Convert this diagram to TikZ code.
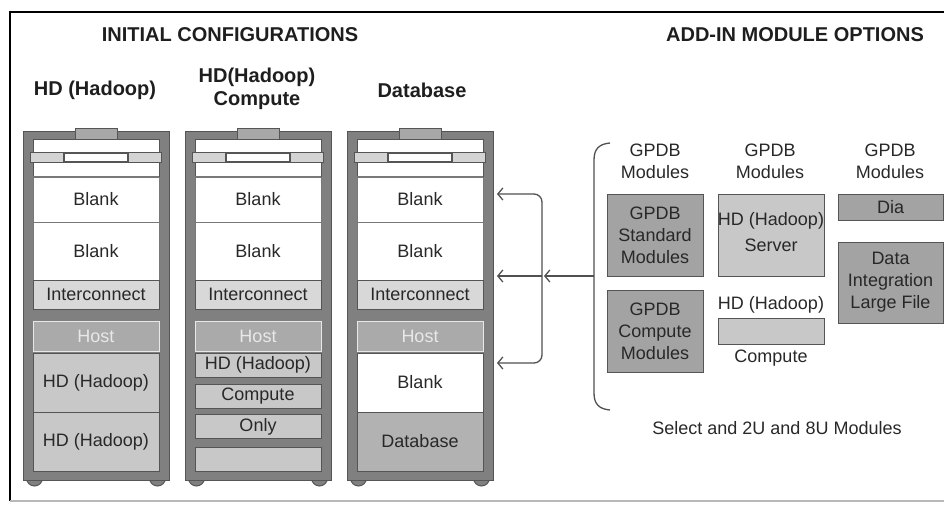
\documentclass[tikz,border=0pt]{standalone}
\usepackage{fontspec}
\setmainfont{Liberation Sans}
\usetikzlibrary{arrows.meta}

\definecolor{framegray}{RGB}{128,128,128}
\definecolor{edgegray}{RGB}{85,85,85}
\definecolor{handlefill}{RGB}{168,168,168}
\definecolor{barfill}{RGB}{212,212,212}
\definecolor{linegray}{RGB}{120,120,120}
\definecolor{interfill}{RGB}{216,216,216}
\definecolor{hostfill}{RGB}{170,170,170}
\definecolor{hostedge}{RGB}{232,232,232}
\definecolor{lightfill}{RGB}{200,200,200}
\definecolor{dbfill}{RGB}{178,178,178}
\definecolor{darkfill}{RGB}{163,163,163}
\definecolor{txt}{RGB}{40,40,40}
\definecolor{headtxt}{RGB}{30,30,30}
\definecolor{conngray}{RGB}{80,80,80}

\newcommand\rkbody{\fontsize{18}{22}\selectfont}
\newcommand\rkhead{\fontsize{20}{23}\selectfont\bfseries}

\begin{document}
\begin{tikzpicture}[x=1pt,y=-1pt,
  rackframe/.style={fill=framegray, draw=edgegray, line width=1pt},
  slot/.style={draw=edgegray, line width=0.9pt, minimum width=126pt, inner sep=0pt, text=txt, font=\rkbody},
  blankslot/.style={slot, fill=white, draw=linegray},
  interslot/.style={slot, fill=interfill},
  hostslot/.style={slot, fill=hostfill, draw=hostedge, text=hostedge},
  hdslot/.style={slot, fill=lightfill},
  dbslot/.style={slot, fill=dbfill},
  modbox/.style={draw=edgegray, line width=1pt, inner sep=0pt, align=center, font=\rkbody, text=txt},
  darkmod/.style={modbox, fill=darkfill},
  lightmod/.style={modbox, fill=lightfill},
  lbl/.style={align=center, font=\rkbody, text=txt, inner sep=0pt},
  head/.style={align=center, font=\rkhead, text=headtxt, inner sep=0pt},
  conn/.style={draw=conngray, line width=1.3pt},
  tip/.style={conn, -{Straight Barb[length=5pt,width=12pt]}},
]
\useasboundingbox (0,0) rectangle (944,504);

% outer frame
\draw[black, line width=1.6pt] (10,501) -- (10,12) -- (944,12);
\draw[gray!55, line width=1.2pt] (10,501) -- (944,501);

% headings
\node[head] (title1) at (230,35) {INITIAL CONFIGURATIONS};
\node[head] (title2) at (795,35) {ADD-IN MODULE OPTIONS};
\node[head] (cap1) at (95,90) {HD (Hadoop)};
\node[head] (cap2) at (257,89) {HD(Hadoop)\\Compute};
\node[head] (cap3) at (422,90) {Database};

% the three racks, common parts
\foreach \k/\cx in {1/96, 2/258, 3/420} {
  \draw[rackframe] (\cx-61.5,478) circle (8);
  \draw[rackframe] (\cx+61.5,478) circle (8);
  \node[rackframe, minimum width=146pt, minimum height=349pt, inner sep=0pt] (rack\k) at (\cx,305.5) {};
  \node[fill=handlefill, draw=edgegray, line width=1pt, minimum width=42pt, minimum height=15pt, inner sep=0pt] (handle\k) at (\cx,135.5) {};
  \node[fill=white, draw=edgegray, line width=0.9pt, minimum width=126pt, minimum height=170pt, inner sep=0pt] (bay\k) at (\cx,224) {};
  \node[fill=barfill, draw=edgegray, line width=0.9pt, minimum width=131pt, minimum height=10pt, inner sep=0pt] (bar\k) at (\cx,157.5) {};
  \node[fill=white, draw=edgegray, line width=1.6pt, minimum width=64pt, minimum height=8pt, inner sep=0pt] (slit\k) at (\cx,157.5) {};
  \draw[linegray, line width=0.9pt] (\cx-63,176) -- (\cx+63,176);
  \node[blankslot, minimum height=45pt] (blankA\k) at (\cx,199.5) {Blank};
  \node[blankslot, minimum height=58pt] (blankB\k) at (\cx,251) {Blank};
  \node[interslot, minimum height=29pt] (inter\k) at (\cx,294.5) {Interconnect};
  \node[hostslot, minimum height=30pt] (host\k) at (\cx,336) {Host};
}

% rack 1: Hadoop
\node[hdslot, minimum height=59pt] (hdA1) at (96,382.5) {HD (Hadoop)};
\node[hdslot, minimum height=59pt] (hdB1) at (96,441.5) {HD (Hadoop)};

% rack 2: Hadoop compute
\node[hdslot, minimum height=24pt] (hd2) at (258,365) {HD (Hadoop)};
\node[hdslot, minimum height=24pt] (comp2) at (258,396.5) {Compute};
\node[hdslot, minimum height=24pt] (only2) at (258,426.5) {Only};
\node[hdslot, minimum height=24pt] (empty2) at (258,459) {};

% rack 3: database
\node[blankslot, draw=edgegray, minimum height=59pt] (blank3) at (420,382.5) {Blank};
\node[dbslot, minimum height=59pt] (db3) at (420,441.5) {Database};

% add-in modules
\node[lbl] (colA) at (655,161) {GPDB\\Modules};
\node[lbl] (colB) at (770,161) {GPDB\\Modules};
\node[lbl] (colC) at (890,161) {GPDB\\Modules};
\node[darkmod, minimum width=96pt, minimum height=82pt] (std) at (655,235) {GPDB\\Standard\\Modules};
\node[lightmod, minimum width=106pt, minimum height=82pt] (hdsrv) at (771,235) {};
\node[lbl] (hdsrvtxt) at (771,232) {HD (Hadoop)\\[4pt]Server};
\node[darkmod, minimum width=105pt, minimum height=26pt] (dia) at (890.5,207) {Dia};
\node[darkmod, minimum width=105pt, minimum height=81pt] (dil) at (890.5,282.5) {Data\\Integration\\Large File};
\node[darkmod, minimum width=96pt, minimum height=82pt] (gcm) at (655,331) {GPDB\\Compute\\Modules};
\node[lbl] (hdlbl) at (771,305) {HD (Hadoop)};
\node[lightmod, minimum width=106pt, minimum height=26pt] (hdcomp) at (771,331) {};
\node[lbl] (complbl) at (771,358) {Compute};
\node[lbl] (select) at (777,428) {Select and 2U and 8U Modules};

% brace around the module options
\coordinate (braceTop) at (610,143);
\coordinate (braceMid) at (594,276);
\coordinate (braceBot) at (610,410);
\draw[conn] (braceTop) .. controls (599,144) and (594,149) .. (594,160)
  -- (594,393) .. controls (594,404) and (599,409) .. (braceBot);

% connectors into the database rack
\coordinate (spine) at (542,276);
\coordinate (tipT) at (497,194);
\coordinate (tipM) at (497,276);
\coordinate (tipB) at (497,363);
\draw[conn, rounded corners=8pt, {Straight Barb[length=5pt,width=12pt]}-{Straight Barb[length=5pt,width=12pt]}]
  (tipT) -| (spine) |- (tipB);
\draw[tip] (braceMid) -- ([xshift=2pt]spine);
\draw[tip] (spine) -- (tipM);
\end{tikzpicture}
\end{document}
